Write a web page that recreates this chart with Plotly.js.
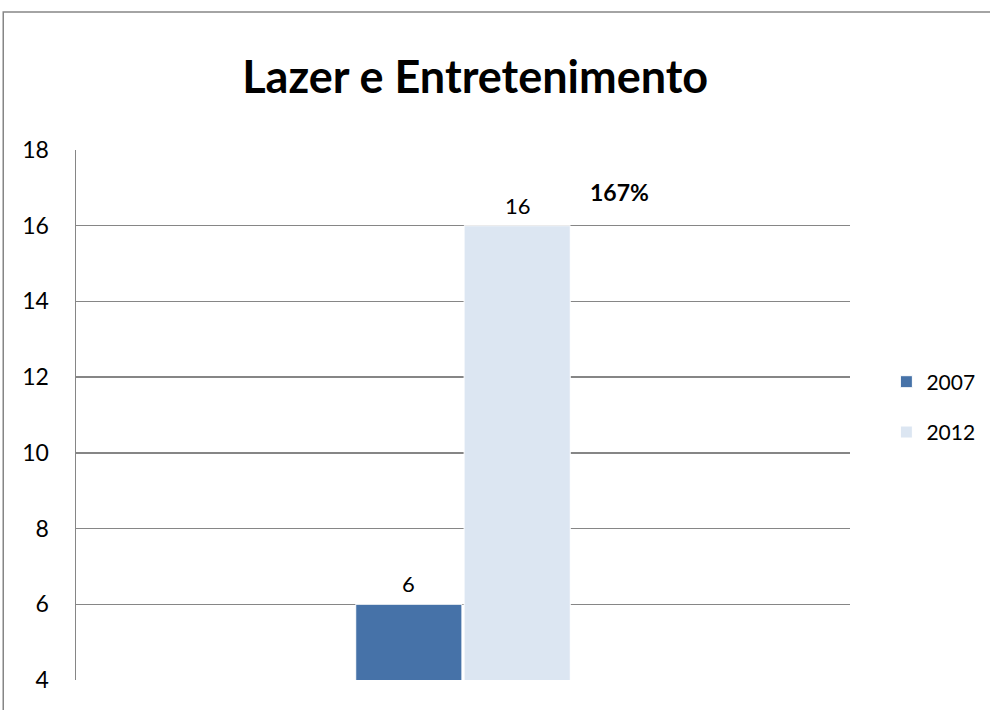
<!DOCTYPE html>
<html>
<head>
<meta charset="utf-8">
<script src="https://cdn.plot.ly/plotly-3.0.1.min.js"></script>
<style>html,body{margin:0;padding:0;background:#fff;}#chart{width:990px;height:710px;}</style>
</head>
<body>
<div id="chart"></div>
<script>
var categories = ["Lazer e Entretenimento"];
var series2007 = [6];
var series2012 = [16];
var seriesNames = ["2007", "2012"];
var growthLabel = "167%";
var yTicks = [4, 6, 8, 10, 12, 14, 16, 18];

var fontFam = "Lato, 'Open Sans', sans-serif";
var traces = [
  {type: 'bar', name: seriesNames[0], legendgroup: 'a', x: categories, y: series2007,
   marker: {color: '#4672A8', line: {color: '#ffffff', width: 1}}},
  {type: 'bar', name: seriesNames[1], legendgroup: 'b', x: categories, y: series2012,
   marker: {color: '#DCE6F2', line: {color: '#ffffff', width: 1}}}
];

var valueAnnots = [];
[series2007, series2012].forEach(function (vals, si) {
  vals.forEach(function (v, i) {
    valueAnnots.push({text: String(v), xref: 'x', yref: 'y', x: categories[i], y: v,
      xshift: si === 0 ? -55 : 55, yshift: 5, showarrow: false, yanchor: 'bottom', xanchor: 'center',
      font: {size: 22, family: fontFam, color: '#000'}});
  });
});

var layout = {
  width: 990, height: 710,
  margin: {l: 76, r: 140, t: 150, b: 30, autoexpand: false},
  paper_bgcolor: '#fff', plot_bgcolor: '#fff',
  font: {family: fontFam, color: '#000', size: 21},
  title: {text: '<b>Lazer e Entretenimento</b>', font: {size: 45, family: fontFam, color: '#000'},
          x: 0.48, xanchor: 'center', y: 0.8915, yanchor: 'middle', xref: 'container', yref: 'container'},
  barmode: 'group', bargap: 0.72, bargroupgap: 0.02,
  xaxis: {showticklabels: false, showgrid: false, zeroline: false, showline: false, ticks: ''},
  yaxis: {range: [4, 18], tickvals: yTicks, showgrid: true, gridcolor: '#868686', gridwidth: 1.5,
          zeroline: false, showline: true, linecolor: '#868686', linewidth: 1.5,
          ticks: 'outside', ticklen: 21, tickcolor: 'rgba(0,0,0,0)',
          tickfont: {size: 23, family: fontFam, color: '#000'}},
  legend: {x: 1.047, y: 0.515, xanchor: 'left', yanchor: 'middle', font: {size: 21, family: fontFam, color: '#000'},
           itemwidth: 30, traceorder: 'grouped', tracegroupgap: 20, bgcolor: 'rgba(0,0,0,0)'},
  showlegend: true,
  annotations: valueAnnots.concat([
    {text: '<b>' + growthLabel + '</b>', xref: 'paper', yref: 'y', x: 0.702, y: 16.88, showarrow: false,
     font: {size: 23, family: fontFam, color: '#000'}, xanchor: 'center', yanchor: 'middle'}
  ]),
  shapes: [
    {type: 'rect', xref: 'paper', yref: 'paper', x0: -0.094, x1: 2, y0: -1, y1: 1.2604,
     line: {color: '#868686', width: 1.5}, fillcolor: 'rgba(0,0,0,0)', layer: 'below'}
  ]
};

Plotly.newPlot('chart', traces, layout, {displayModeBar: false, staticPlot: true});
</script>
</body>
</html>
